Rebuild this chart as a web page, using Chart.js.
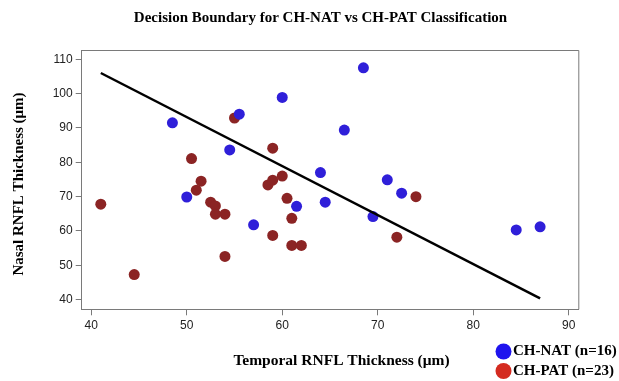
<!DOCTYPE html>
<html>
<head>
<meta charset="utf-8">
<script src="https://cdn.jsdelivr.net/npm/chart.js@4.4.1/dist/chart.umd.min.js"></script>
<style>
  html, body { margin: 0; padding: 0; background: #ffffff; }
  #wrap { width: 619px; height: 381px; position: relative; }
</style>
</head>
<body>
<div id="wrap"><canvas id="c" width="619" height="381"></canvas></div>
<script>
// ---- Data ----
const chartTitle = "Decision Boundary for CH-NAT vs CH-PAT Classification";
const xAxisTitle = "Temporal RNFL Thickness (\u03BCm)";
const yAxisTitle = "Nasal RNFL Thickness (\u03BCm)";
const legendLabels = ["CH-NAT (n=16)", "CH-PAT (n=23)"];

const xTicks = [40, 50, 60, 70, 80, 90];
const yTicks = [40, 50, 60, 70, 80, 90, 100, 110];

// CH-NAT (blue)
const natX = [48.5, 55.5, 60.0, 66.5, 54.5, 64.0, 50.0, 57.0, 61.5, 64.5, 68.5, 71.0, 72.5, 69.5, 84.5, 87.0];
const natY = [91.5, 94.0, 98.9, 89.4, 83.6, 77.0, 69.9, 61.8, 67.2, 68.4, 107.5, 74.9, 71.0, 64.2, 60.3, 61.2];

// CH-PAT (red)
const patX = [55.0, 59.0, 50.5, 51.5, 51.0, 41.0, 52.5, 53.0, 53.0, 54.0, 54.0, 44.5, 58.5, 59.0, 60.0, 60.5, 61.0, 59.0, 61.0, 62.0, 74.0, 72.0];
const patY = [92.9, 84.1, 81.1, 74.5, 71.9, 67.8, 68.4, 67.3, 64.9, 64.9, 52.6, 47.3, 73.4, 74.8, 76.0, 69.5, 63.7, 58.7, 55.8, 55.8, 70.0, 58.2];

// Decision boundary end points
const boundaryX = [41.0, 87.0];
const boundaryY = [106.0, 40.4];

// ---- Build datasets ----
const toPts = (xs, ys) => xs.map((x, i) => ({ x: x, y: ys[i] }));

const natColor = '#2f1fd9';
const patColor = '#8b2424';
const legendColors = ['#1f14ee', '#d42b20'];
const axisColor = '#7a7a7a';
const serif = '"Liberation Serif", "Times New Roman", serif';

const overlay = {
  id: 'overlay',
  afterDraw(chart) {
    const ctx = chart.ctx;
    const a = chart.chartArea;
    ctx.save();
    // top and right border of the box
    ctx.strokeStyle = axisColor;
    ctx.lineWidth = 1;
    ctx.beginPath();
    ctx.moveTo(a.left, a.top + 0.5);
    ctx.lineTo(a.right + 0.5, a.top + 0.5);
    ctx.lineTo(a.right + 0.5, a.bottom);
    ctx.stroke();

    ctx.fillStyle = '#000';
    ctx.textAlign = 'center';
    ctx.textBaseline = 'middle';
    // title
    ctx.font = 'bold 15px ' + serif;
    ctx.fillText(chartTitle, 320.5, 18.5);
    // x axis title
    ctx.font = 'bold 15.5px ' + serif;
    ctx.fillText(xAxisTitle, 341.5, 361);
    // y axis title
    ctx.save();
    ctx.font = 'bold 15px ' + serif;
    ctx.translate(19, 184);
    ctx.rotate(-Math.PI / 2);
    ctx.fillText(yAxisTitle, 0, 0);
    ctx.restore();

    // legend
    const lx = 503.5, ly = [351.5, 371];
    ctx.textAlign = 'left';
    ctx.font = 'bold 15px ' + serif;
    for (let i = 0; i < legendLabels.length; i++) {
      ctx.fillStyle = legendColors[i];
      ctx.beginPath();
      ctx.arc(lx, ly[i], 8, 0, Math.PI * 2);
      ctx.fill();
      ctx.fillStyle = '#000';
      ctx.fillText(legendLabels[i], 513, ly[i]);
    }
    ctx.restore();
  }
};

new Chart(document.getElementById('c'), {
  type: 'scatter',
  data: {
    datasets: [
      {
        label: legendLabels[0],
        data: toPts(natX, natY),
        backgroundColor: natColor,
        borderWidth: 0,
        pointRadius: 5.5,
        order: 2
      },
      {
        label: legendLabels[1],
        data: toPts(patX, patY),
        backgroundColor: patColor,
        borderWidth: 0,
        pointRadius: 5.5,
        order: 2
      },
      {
        label: 'Decision boundary',
        data: toPts(boundaryX, boundaryY),
        showLine: true,
        borderColor: '#000000',
        borderWidth: 2.5,
        pointRadius: 0,
        fill: false,
        order: 1
      }
    ]
  },
  options: {
    responsive: false,
    animation: false,
    events: [],
    layout: { padding: { left: 0, right: 40.7, top: 50, bottom: 0 } },
    plugins: {
      legend: { display: false },
      title: { display: false },
      tooltip: { enabled: false }
    },
    scales: {
      x: {
        type: 'linear',
        min: 39.0,
        max: 91.0,
        afterBuildTicks: (s) => { s.ticks = xTicks.map(v => ({ value: v })); },
        afterFit: (s) => { s.height = 71.7; },
        grid: { drawOnChartArea: false, tickLength: 6, tickColor: axisColor, lineWidth: 1 },
        border: { display: true, color: axisColor, width: 1 },
        ticks: {
          padding: 3,
          color: '#222',
          font: { family: '"Liberation Sans", Arial, sans-serif', size: 12 },
          maxRotation: 0
        }
      },
      y: {
        type: 'linear',
        min: 37.2,
        max: 112.7,
        afterBuildTicks: (s) => { s.ticks = yTicks.map(v => ({ value: v })); },
        afterFit: (s) => { s.width = 81.7; },
        grid: { drawOnChartArea: false, tickLength: 6, tickColor: axisColor, lineWidth: 1 },
        border: { display: true, color: axisColor, width: 1 },
        ticks: {
          padding: 3,
          color: '#222',
          font: { family: '"Liberation Sans", Arial, sans-serif', size: 12 }
        }
      }
    }
  },
  plugins: [overlay]
});
</script>
</body>
</html>
